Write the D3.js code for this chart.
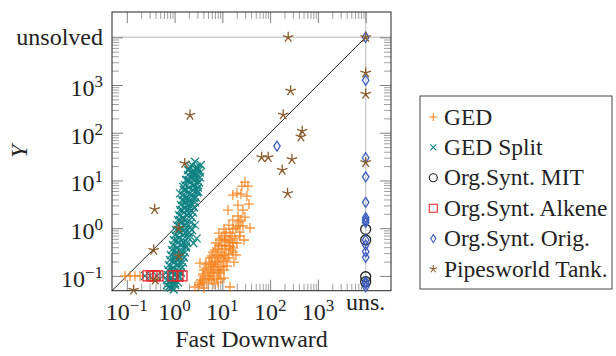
<!DOCTYPE html>
<html>
<head>
<meta charset="utf-8">
<script src="https://cdn.jsdelivr.net/npm/d3@7"></script>
<style>
  body { margin: 0; background: #fff; }
  svg { display: block; }
  svg text { font-family: "Liberation Serif", "DejaVu Serif", serif; }
</style>
</head>
<body>
<div id="chart"></div>
<script>
// "unsolved" is plotted at 10^4 on both axes
const UNS = 1e4;

// [Fast Downward time, Y time]
const gedPoints = [
  [29.7, 9.25], [34.3, 7.63], [25.7, 7.63], [20.2, 5.45], [24.5, 5.19], [16.6, 4.94],
  [36.0, 3.20], [21.2, 1.80], [29.7, 1.71], [16.6, 1.48], [37.8, 1.01], [24.5, 1.48],
  [13.7, 1.16], [19.2, 1.01], [11.9, 0.83], [23.3, 0.83], [9.8, 0.62], [15.9, 0.685],
  [28.3, 0.565], [13.1, 0.513], [20.2, 0.489], [8.47, 0.443], [11.9, 0.423], [16.6, 0.384],
  [7.0, 0.348], [9.8, 0.316], [13.7, 0.288], [19.2, 0.274], [6.05, 0.261], [8.47, 0.237],
  [11.9, 0.215], [5.24, 0.195], [7.34, 0.177], [10.3, 0.161], [4.54, 0.146], [6.35, 0.133],
  [8.9, 0.121], [3.93, 0.110], [5.5, 0.10], [7.71, 0.090], [3.56, 0.082], [4.75, 0.074],
  [6.67, 0.068], [3.24, 0.0645], [4.12, 0.0558], [14.4, 0.0586], [2.67, 0.0586], [3.40, 0.186],
  [32.7, 4.71], [21.2, 3.05], [27.0, 2.40], [13.1, 2.40], [17.5, 0.195], [10.8, 0.090],
  [8.0, 0.195], [5.8, 0.161], [9.3, 0.261], [15.1, 0.348], [11.3, 0.565], [4.3, 0.090],
  [6.05, 0.082], [3.75, 0.068], [18.3, 0.62], [5.0, 0.121], [8.0, 0.133], [12.5, 0.161],
  [22.2, 1.35],
  [3.40, 0.074], [8.09, 0.074], [5.24, 0.0861], [9.33, 0.0861], [3.93, 0.1], [6.67, 0.1],
  [5.77, 0.115], [8.47, 0.115], [4.12, 0.133], [10.8, 0.133], [6.67, 0.153], [9.33, 0.153],
  [4.54, 0.177], [6.05, 0.177], [7.0, 0.205], [10.8, 0.205], [5.5, 0.237], [13.1, 0.237],
  [7.71, 0.274], [10.8, 0.274], [6.35, 0.316], [16.6, 0.316], [8.09, 0.366], [11.3, 0.366],
  [9.8, 0.423], [14.4, 0.423], [7.34, 0.489], [16.6, 0.489], [8.9, 0.565], [14.4, 0.565],
  [11.3, 0.685], [23.3, 0.685], [8.47, 0.791], [14.4, 0.791], [10.8, 0.959], [16.6, 0.959],
  [21.2, 1.11], [27.0, 1.11],
  [0.092, 0.1], [0.117, 0.1], [0.148, 0.1], [0.189, 0.1]
];

const gedSplitPoints = [
  [2.67, 24.6], [2.90, 19.4], [2.10, 19.4], [2.46, 14.1], [2.71, 14.1], [1.79, 10.2],
  [1.97, 10.2], [2.90, 11.1], [2.92, 8.69], [2.46, 11.9], [1.52, 7.38], [2.46, 8.01],
  [1.67, 6.30], [2.90, 6.30], [1.30, 5.37], [2.10, 5.37], [3.13, 5.80], [1.55, 3.88],
  [2.28, 3.31], [1.82, 3.88], [1.43, 2.40], [1.97, 2.05], [1.31, 1.48], [1.82, 1.26],
  [2.67, 1.16], [1.22, 0.914], [1.67, 0.780], [2.31, 0.914], [1.12, 0.565], [1.55, 0.482],
  [2.90, 0.612], [2.48, 0.482], [1.03, 0.348], [1.43, 0.297], [0.957, 0.215], [1.31, 0.184],
  [0.881, 0.133], [1.22, 0.122], [0.813, 0.082], [1.03, 0.070], [0.752, 0.059], [0.957, 0.052],
  [1.07, 0.261], [1.57, 1.11], [2.0, 2.64], [1.73, 0.423], [1.24, 0.10], [0.84, 0.0645],
  [2.10, 0.685], [2.54, 4.28], [1.91, 16.5], [3.24, 16.5],
  [2.31, 21.0], [2.94, 18.6], [3.56, 21.0],
  [2.00, 16.5], [2.43, 14.6], [2.94, 16.5], [3.40, 14.6],
  [1.91, 13.0], [2.31, 11.5], [2.80, 13.0], [3.40, 11.5],
  [1.73, 10.2], [2.10, 9.05], [2.67, 10.2], [3.24, 9.05],
  [1.65, 8.01], [2.00, 7.10], [2.54, 8.01], [3.08, 7.10],
  [1.57, 6.30], [1.91, 5.59], [2.43, 6.30], [2.94, 5.59],
  [1.50, 4.94], [1.82, 4.38], [2.31, 4.94], [2.80, 4.38],
  [1.43, 3.88], [1.73, 3.44], [2.10, 3.88], [2.67, 3.44],
  [1.36, 3.05], [1.65, 2.71], [2.00, 3.05], [2.54, 2.71],
  [1.30, 2.40], [1.57, 2.13], [1.91, 2.40], [2.43, 2.13],
  [1.24, 1.88], [1.50, 1.67], [1.82, 1.88], [2.31, 1.67],
  [1.18, 1.48], [1.43, 1.31], [1.73, 1.48], [2.20, 1.31],
  [1.12, 1.16], [1.36, 1.03], [1.65, 1.16], [2.10, 1.03],
  [1.07, 0.914], [1.30, 0.811], [1.57, 0.914], [2.00, 0.811],
  [1.02, 0.718], [1.24, 0.637], [1.50, 0.718], [1.91, 0.637],
  [0.970, 0.565], [1.18, 0.501], [1.43, 0.565], [1.82, 0.501],
  [0.925, 0.443], [1.12, 0.393], [1.36, 0.443], [1.73, 0.393],
  [0.881, 0.348], [1.07, 0.309], [1.30, 0.348], [1.65, 0.309],
  [0.839, 0.274], [1.02, 0.243], [1.24, 0.274], [1.57, 0.243],
  [0.800, 0.215], [0.970, 0.191], [1.18, 0.215], [1.50, 0.191],
  [0.762, 0.169], [0.925, 0.150], [1.12, 0.169], [1.43, 0.150],
  [0.728, 0.133], [0.881, 0.118], [1.07, 0.133], [1.36, 0.118],
  [0.728, 0.104], [0.839, 0.092], [1.02, 0.104], [1.24, 0.092],
  [0.693, 0.082], [0.800, 0.073], [0.970, 0.082], [1.18, 0.073],
  [0.693, 0.0645], [0.839, 0.057], [1.02, 0.0645],
  [0.240, 0.1], [0.305, 0.1], [0.428, 0.1], [0.571, 0.1]
];

const mitPoints = [
  [UNS, 0.946], [UNS, 0.565], [UNS, 0.096], [UNS, 0.0755]
];

const alkenePoints = [
  [0.277, 0.1], [0.337, 0.1], [0.389, 0.1], [0.449, 0.1], [0.925, 0.1], [1.18, 0.1], [1.43, 0.1]
];

const origPoints = [
  [139, 52.5], [UNS, UNS], [UNS, 1259], [UNS, 29.9], [UNS, 11.9], [UNS, 3.48],
  [UNS, 1.66], [UNS, 1.48], [UNS, 1.32], [UNS, 0.565], [UNS, 0.444], [UNS, 0.321],
  [UNS, 0.245], [UNS, 0.0755], [UNS, 0.070], [UNS, 0.059]
];

const pipesPoints = [
  [UNS, UNS], [239, UNS], [268, 757], [188, 238], [2.10, 234], [469, 108], [441, 82],
  [66.4, 30.5], [91.2, 30.5], [286, 27.7], [179, 16.5], [1.63, 22.8], [232, 5.37],
  [0.383, 2.48], [1.22, 1.0], [0.365, 0.348], [1.22, 0.261], [0.394, 0.082], [0.139, 0.0507],
  [UNS, 1803], [UNS, 646], [UNS, 23.9]
];

const seriesNames = ['GED', 'GED Split', 'Org.Synt. MIT', 'Org.Synt. Alkene', 'Org.Synt. Orig.', 'Pipesworld Tank.'];

const majorTicks = [0.1, 1, 10, 100, 1000, UNS];
const exponents = ['\u22121', '0', '1', '2', '3'];
const xUnsLabel = 'uns.';
const yUnsLabel = 'unsolved';

const series = [
  { name: seriesNames[0], data: gedPoints, color: '#f7801a', shape: 'plus', size: 5, opacity: 0.85 },
  { name: seriesNames[1], data: gedSplitPoints, color: '#0f8282', shape: 'cross', size: 4, opacity: 0.95 },
  { name: seriesNames[2], data: mitPoints, color: '#222', shape: 'circle', size: 5, opacity: 1 },
  { name: seriesNames[3], data: alkenePoints, color: '#e8252a', shape: 'square', size: 5, opacity: 1 },
  { name: seriesNames[4], data: origPoints, color: '#3c5cc0', shape: 'diamond', size: 5, opacity: 1 },
  { name: seriesNames[5], data: pipesPoints, color: '#8b5a2b', shape: 'star', size: 5.5, opacity: 1 }
];

const W = 616, H = 356;
const FONT = '"Liberation Serif", "DejaVu Serif", serif';
const plot = { left: 112, right: 391, top: 12, bottom: 290.7 };
const lo = Math.pow(10, -1.31), hi = Math.pow(10, 4.53);

const x = d3.scaleLog().domain([lo, hi]).range([plot.left, plot.right]);
const y = d3.scaleLog().domain([lo, hi]).range([plot.bottom, plot.top]);

function markerPath(shape, s) {
  switch (shape) {
    case 'plus': return `M${-s},0H${s}M0,${-s}V${s}`;
    case 'cross': return `M${-s},${-s}L${s},${s}M${-s},${s}L${s},${-s}`;
    case 'circle': return `M${s},0A${s},${s} 0 1,1 ${-s},0A${s},${s} 0 1,1 ${s},0Z`;
    case 'square': return `M${-s},${-s}H${s}V${s}H${-s}Z`;
    case 'diamond': return `M0,${-s}L${s * 0.65},0L0,${s}L${-s * 0.65},0Z`;
    case 'star': {
      let p = '';
      for (let k = 0; k < 5; k++) {
        const a = -Math.PI / 2 + k * 2 * Math.PI / 5;
        p += `M0,0L${(s * Math.cos(a)).toFixed(2)},${(s * Math.sin(a)).toFixed(2)}`;
      }
      return p;
    }
  }
}

const svg = d3.select('#chart').append('svg')
  .attr('width', W)
  .attr('height', H)
  .attr('font-family', FONT);

// unsolved guide lines
svg.append('line')
  .attr('x1', plot.left).attr('x2', plot.right)
  .attr('y1', y(UNS)).attr('y2', y(UNS))
  .attr('stroke', '#cfcfcf').attr('stroke-width', 1.5);
svg.append('line')
  .attr('x1', x(UNS)).attr('x2', x(UNS))
  .attr('y1', plot.top).attr('y2', plot.bottom)
  .attr('stroke', '#cfcfcf').attr('stroke-width', 1.5);

// ticks (all inward)
const minorTicks = d3.range(-1, 4).flatMap(d => d3.range(2, 10).map(m => m * Math.pow(10, d)));

function styleAxis(g, color) {
  g.select('.domain').remove();
  g.selectAll('.tick line').attr('stroke', color).attr('stroke-width', 1);
  g.selectAll('.tick text').remove();
}

const axes = [
  [d3.axisBottom(x), `translate(0,${plot.bottom})`],
  [d3.axisTop(x), `translate(0,${plot.top})`],
  [d3.axisLeft(y), `translate(${plot.left},0)`],
  [d3.axisRight(y), `translate(${plot.right},0)`]
];
axes.forEach(([axis, tr]) => {
  svg.append('g').attr('transform', tr)
    .call(axis.tickValues(minorTicks).tickSize(-7).tickFormat(''))
    .call(g => styleAxis(g, '#a0a0a0'));
  svg.append('g').attr('transform', tr)
    .call(axis.tickValues(majorTicks).tickSize(-11).tickFormat(''))
    .call(g => styleAxis(g, '#808080'));
});

// diagonal
svg.append('line')
  .attr('x1', x(lo)).attr('y1', y(lo))
  .attr('x2', x(UNS)).attr('y2', y(UNS))
  .attr('stroke', '#222').attr('stroke-width', 1);

// frame
svg.append('rect')
  .attr('x', plot.left).attr('y', plot.top)
  .attr('width', plot.right - plot.left).attr('height', plot.bottom - plot.top)
  .attr('fill', 'none').attr('stroke', '#222').attr('stroke-width', 1);

// tick labels
const xLab = svg.append('g').attr('font-size', 24).attr('fill', '#222').attr('font-family', FONT);
majorTicks.forEach((t, i) => {
  if (t === UNS) {
    xLab.append('text').attr('x', x(t)).attr('y', 310).attr('text-anchor', 'middle').text(xUnsLabel);
  } else {
    const tx = xLab.append('text').attr('x', x(t)).attr('y', 320).attr('text-anchor', 'middle');
    tx.append('tspan').text('10');
    tx.append('tspan').attr('dy', -9).attr('font-size', 17).text(exponents[i]);
  }
});
const yLab = svg.append('g').attr('font-size', 24).attr('fill', '#222').attr('font-family', FONT);
majorTicks.forEach((t, i) => {
  if (t === UNS) {
    yLab.append('text').attr('x', 103).attr('y', y(t) + 8).attr('text-anchor', 'end').text(yUnsLabel);
  } else {
    const ty = yLab.append('text').attr('x', 103).attr('y', y(t) + 11).attr('text-anchor', 'end');
    ty.append('tspan').text('10');
    ty.append('tspan').attr('dy', -9).attr('font-size', 17).text(exponents[i]);
  }
});

// axis titles
svg.append('text')
  .attr('x', (plot.left + plot.right) / 2).attr('y', 347)
  .attr('text-anchor', 'middle').attr('font-size', 24).attr('fill', '#222')
  .attr('font-family', FONT)
  .text('Fast Downward');
svg.append('text')
  .attr('transform', `translate(27,${(plot.top + plot.bottom) / 2}) rotate(-90)`)
  .attr('text-anchor', 'middle').attr('font-size', 24).attr('font-style', 'italic').attr('fill', '#222')
  .attr('font-family', FONT)
  .text('Y');

// points
series.forEach(s => {
  svg.append('g')
    .selectAll('path')
    .data(s.data)
    .join('path')
    .attr('transform', d => `translate(${x(d[0])},${y(d[1])})`)
    .attr('d', markerPath(s.shape, s.size))
    .attr('fill', 'none')
    .attr('stroke', s.color)
    .attr('stroke-width', 1.3)
    .attr('opacity', s.opacity);
});

// legend
const legend = svg.append('g');
legend.append('rect')
  .attr('x', 420).attr('y', 96).attr('width', 192).attr('height', 193)
  .attr('fill', '#fff').attr('stroke', '#444').attr('stroke-width', 1);
series.forEach((s, i) => {
  const ry = 117 + i * 30.4;
  legend.append('path')
    .attr('transform', `translate(433.3,${ry})`)
    .attr('d', markerPath(s.shape, s.shape === 'cross' ? 3 : 4))
    .attr('fill', 'none').attr('stroke', s.color).attr('stroke-width', 1.1);
  legend.append('text')
    .attr('x', 444).attr('y', ry + 7.5)
    .attr('font-size', 23.5).attr('fill', '#222')
    .attr('font-family', FONT)
    .text(s.name);
});
</script>
</body>
</html>
